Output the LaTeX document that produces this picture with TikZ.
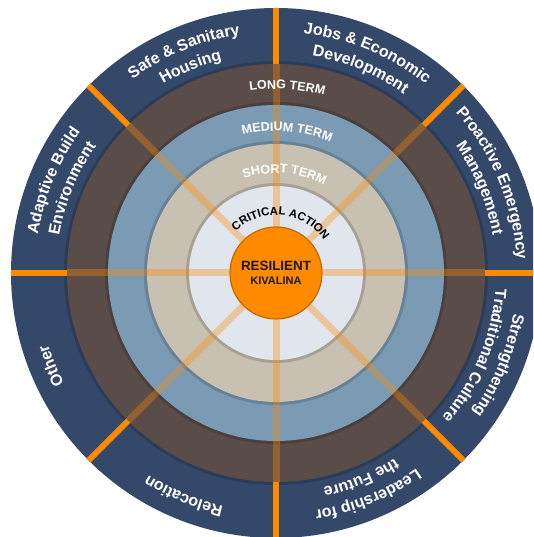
\documentclass[tikz,border=0pt]{standalone}
\usepackage{fontspec}
\setsansfont{Liberation Sans}
\usetikzlibrary{positioning,decorations.text}

\definecolor{kvnavy}{HTML}{34486A}
\definecolor{kvbrown}{HTML}{5A4C49}
\definecolor{kvblue}{HTML}{7B9AB4}
\definecolor{kvbeige}{HTML}{C8C0B0}
\definecolor{kvlight}{HTML}{E0E5EE}
\definecolor{kvorange}{HTML}{FF8A00}

\newcommand{\navyfont}{\sffamily\bfseries\fontsize{16}{16}\selectfont\color{white}}
\newcommand{\termfont}{\sffamily\bfseries\fontsize{12.5}{13}\selectfont\color{white}}
\newcommand{\critfont}{\sffamily\bfseries\fontsize{11.5}{12}\selectfont\color{black}}
% radius, middle angle, font, text -- runs clockwise
\newcommand{\ringtext}[4]{%
  \path[decorate,decoration={text along path,text align=center,text={|#3|#4}}]
    ({#2+85}:#1) arc[start angle={#2+85},end angle={#2-85},radius=#1];}

\begin{document}
\begin{tikzpicture}[x=1pt,y=1pt,
    disc/.style={circle,inner sep=0pt,outer sep=0pt,minimum size=#1},
    shade edge/.style={preaction={draw=black,draw opacity=.16,line width=6}},
    spoke/.style={draw=kvorange,line width=6},
    faint spoke/.style={draw=kvorange,line width=7,draw opacity=.35}]
  \useasboundingbox (-276,-264) rectangle (257,273);
  \clip (-276,-264) rectangle (257,273);

  \node[disc=530,fill=kvnavy] (outer) at (0,0) {};
  \node[disc=418,fill=kvbrown,shade edge] (long) at (0,0) {};
  \node[disc=336,fill=kvblue,shade edge] (medium) at (0,0) {};
  \node[disc=258,fill=kvbeige,shade edge] (short) at (0,0) {};
  \node[disc=174,fill=kvlight,shade edge] (critical) at (0,0) {};
  \node[disc=92,fill=kvorange,draw=kvorange!75!black,line width=1.2,
        align=center,text=black!90,
        font=\sffamily\bfseries\fontsize{13.4}{14}\selectfont] (core) at (0,0)
        {RESILIENT\\{\fontsize{11}{12}\selectfont KIVALINA}};

  \foreach \a in {0,45,...,315}{
    \draw[faint spoke] (core.\a) -- (long.\a);
    \draw[spoke] (long.\a) -- (outer.\a);
  }

  % time frames
  \ringtext{184}{86.5}{\termfont}{LONG TERM}
  \ringtext{142}{85.5}{\termfont}{MEDIUM TERM}
  \ringtext{100}{85}{\termfont}{SHORT TERM}
  \ringtext{58}{84}{\critfont}{CRITICAL ACTION}

  % sectors
  \ringtext{241}{112.5}{\navyfont}{Safe {\&} Sanitary}
  \ringtext{220}{112.5}{\navyfont}{Housing}
  \ringtext{241}{67.5}{\navyfont}{Jobs {\&} Economic}
  \ringtext{220}{67.5}{\navyfont}{Development}
  \ringtext{241}{22.5}{\navyfont}{Proactive Emergency}
  \ringtext{220}{22.5}{\navyfont}{Management}
  \ringtext{241}{-22.5}{\navyfont}{Strengthening}
  \ringtext{220}{-22.5}{\navyfont}{Traditional Culture}
  \ringtext{241}{-67.5}{\navyfont}{Leadership for}
  \ringtext{220}{-67.5}{\navyfont}{the Future}
  \ringtext{239}{-112.5}{\navyfont}{Relocation}
  \ringtext{239}{-157.5}{\navyfont}{Other}
  \ringtext{241}{157.5}{\navyfont}{Adaptive Build}
  \ringtext{220}{157.5}{\navyfont}{Environment}
\end{tikzpicture}
\end{document}
